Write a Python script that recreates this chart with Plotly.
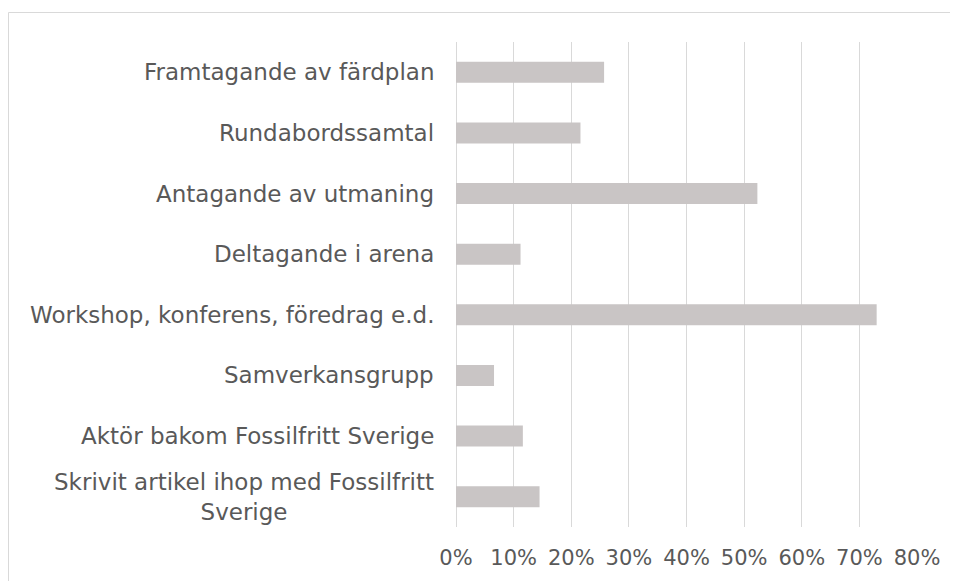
import plotly.graph_objects as go

categories = [
    "Framtagande av färdplan",
    "Rundabordssamtal",
    "Antagande av utmaning",
    "Deltagande i arena",
    "Workshop, konferens, föredrag e.d.",
    "Samverkansgrupp",
    "Aktör bakom Fossilfritt Sverige",
    "Skrivit artikel ihop med Fossilfritt<br>Sverige",
]
values = [0.257, 0.216, 0.523, 0.112, 0.730, 0.066, 0.116, 0.145]
tick_vals = [0, 0.1, 0.2, 0.3, 0.4, 0.5, 0.6, 0.7, 0.8]
tick_text = ["0%", "10%", "20%", "30%", "40%", "50%", "60%", "70%", "80%"]

W, H = 958, 581
L, R, T, B = 448, 49, 34, 62
pw, ph = W - L - R, H - T - B

font_family = "DejaVu Sans"
text_color = "#595959"

fig = go.Figure(
    go.Bar(
        x=values,
        y=categories,
        orientation="h",
        marker=dict(color="#c9c5c5", line=dict(width=0)),
        hoverinfo="x+y",
    )
)

for cat in categories:
    fig.add_annotation(
        x=0, y=cat, xref="x", yref="y",
        text=cat, showarrow=False,
        xanchor="right", yanchor="middle", align="center",
        xshift=-20,
        font=dict(family=font_family, size=23, color=text_color),
    )

def px_x(p):
    return (p - L) / pw

def px_y(p):
    return (H - B - p) / ph

fig.add_shape(
    type="rect", xref="paper", yref="paper",
    x0=px_x(0.5), x1=px_x(W + 20), y0=px_y(4.5), y1=px_y(H + 20),
    line=dict(color="#d9d9d9", width=1), fillcolor="rgba(0,0,0,0)",
    layer="below",
)

fig.update_layout(
    width=W, height=H,
    margin=dict(l=L, r=R, t=T, b=B, pad=0),
    paper_bgcolor="white", plot_bgcolor="white",
    bargap=0.653,
    showlegend=False,
    font=dict(family=font_family, size=21, color=text_color),
    xaxis=dict(
        range=[0, 0.8],
        tickvals=tick_vals, ticktext=tick_text,
        showgrid=True, gridcolor="#d9d9d9", gridwidth=1,
        zeroline=True, zerolinecolor="#d9d9d9", zerolinewidth=1,
        showline=False, ticks="",
        ticklabelstandoff=16,
        tickfont=dict(family=font_family, size=21, color=text_color),
        fixedrange=True,
    ),
    yaxis=dict(
        categoryorder="array", categoryarray=categories[::-1],
        showticklabels=False, showgrid=False, zeroline=False,
        showline=False, ticks="", fixedrange=True,
    ),
)

fig.write_html("out.html")
